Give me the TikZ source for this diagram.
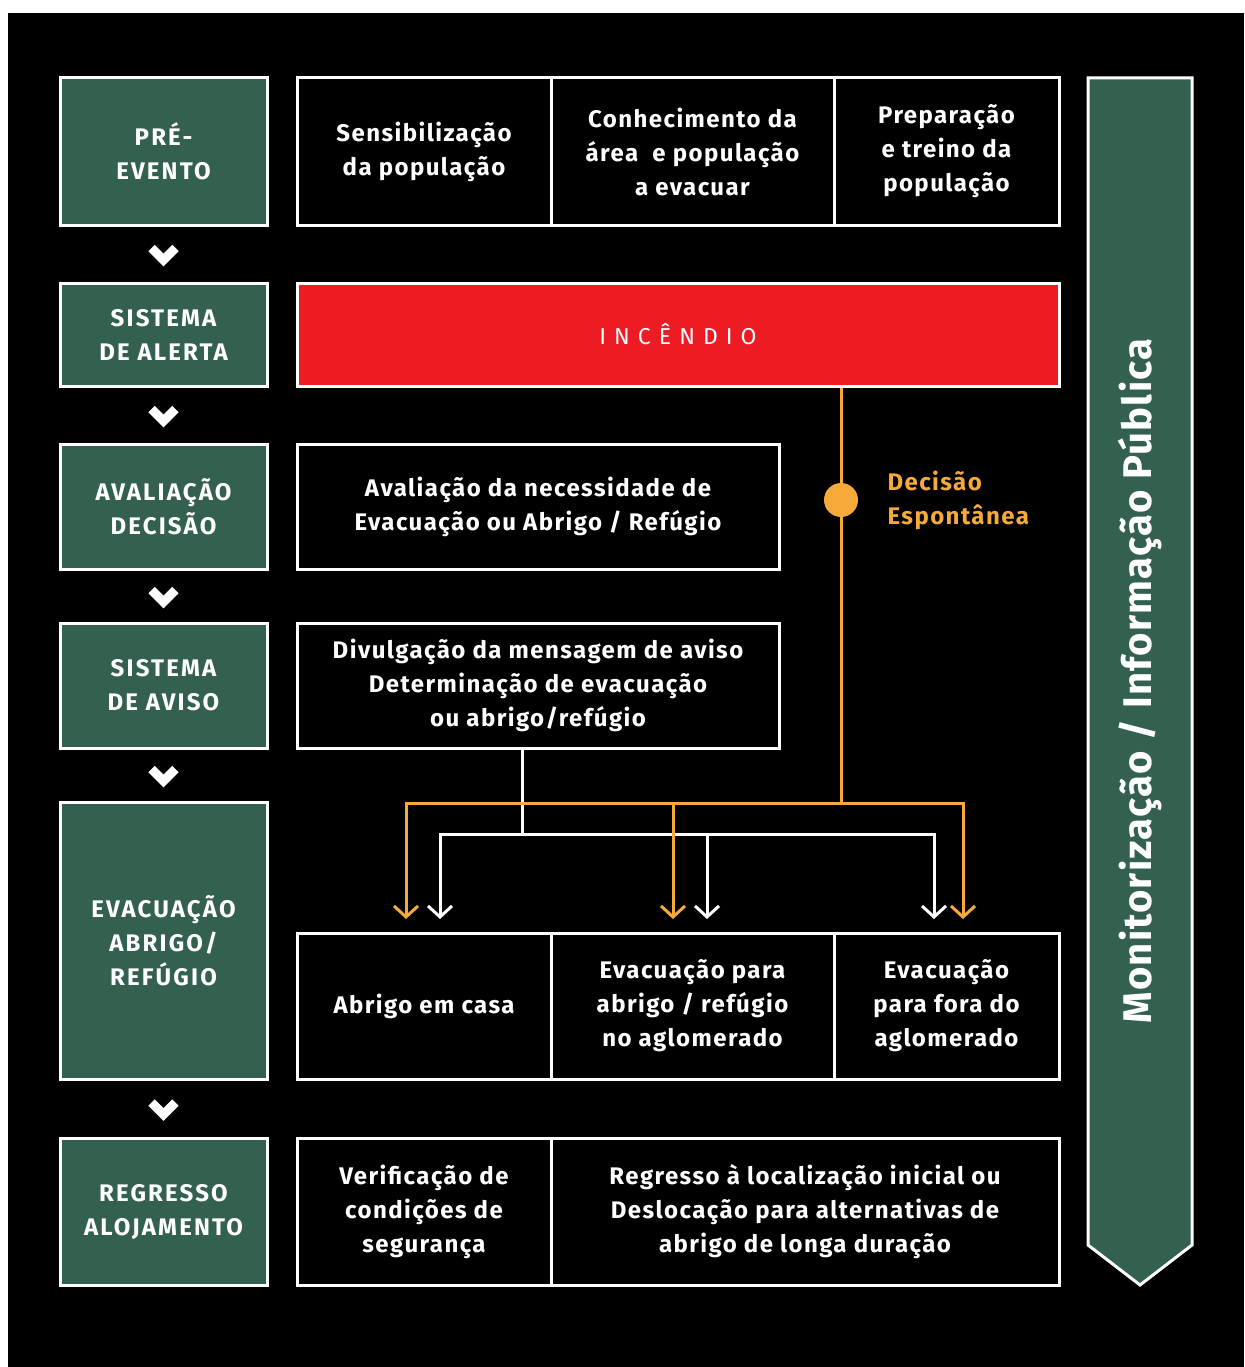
\documentclass[tikz,border=0pt]{standalone}
\usepackage{fontspec}
\setmainfont{Fira Sans}
\usetikzlibrary{arrows.meta}
\definecolor{dgreen}{HTML}{34614F}
\definecolor{fire}{HTML}{ED1C24}
\definecolor{amber}{HTML}{F6AA3A}
\begin{document}
\begin{tikzpicture}[x=1pt,y=-1pt,
  txt/.style={text=white,font=\fontsize{24}{34}\selectfont\bfseries\addfontfeature{LetterSpace=6},align=center},
  gtxt/.style={text=white,font=\fontsize{24}{34}\selectfont\bfseries\addfontfeature{LetterSpace=9},align=center},
  gbox/.style={gtxt,draw=white,fill=dgreen,line width=3pt,inner sep=0pt},
  bbox/.style={txt,draw=white,fill=black,line width=3pt,inner sep=0pt},
  rbox/.style={draw=white,fill=fire,line width=3pt,inner sep=0pt,text=white},
  chev/.style={white,line width=9pt,miter limit=10},
  oline/.style={amber,line width=3pt},
  wline/.style={white,line width=3pt},
  oarr/.style={oline,-{Straight Barb[length=11pt,width=24pt]}},
  warr/.style={wline,-{Straight Barb[length=11pt,width=24pt]}}
]
\useasboundingbox (0,0) rectangle (1244,1367);
\fill[white] (0,0) rectangle (1244,1367);
\fill[black] (8,13) rectangle (1244,1367);

% left stage boxes
\node[gbox,minimum width=207pt,minimum height=147pt] (pre) at (163.5,151.5) {PRÉ-\\EVENTO};
\node[gbox,minimum width=207pt,minimum height=103pt] (alerta) at (163.5,334.5) {SISTEMA\\DE ALERTA};
\node[gbox,minimum width=207pt,minimum height=125pt] (aval) at (163.5,506.5) {AVALIAÇÃO\\DECISÃO};
\node[gbox,minimum width=207pt,minimum height=125pt] (aviso) at (163.5,685.5) {SISTEMA\\DE AVISO};
\node[gbox,minimum width=207pt,minimum height=277pt] (evac) at (163.5,940.5) {EVACUAÇÃO\\ABRIGO/\\REFÚGIO};
\node[gbox,minimum width=207pt,minimum height=147pt] (regr) at (163.5,1211.5) {REGRESSO\\ALOJAMENTO};

% chevrons between stages
\foreach \a/\b/\n in {pre/alerta/c1,alerta/aval/c2,aval/aviso/c3,aviso/evac/c4,evac/regr/c5}{
  \path (\a.south) -- (\b.north) coordinate[pos=0.5] (\n);
  \draw[chev] ([shift={(-12,-6)}]\n) -- ([shift={(0,6)}]\n) -- ([shift={(12,-6)}]\n);
}

% row 1
\node[bbox,minimum width=254pt,minimum height=147pt] (r1a) at (424,151.5) {Sensibilização\\da população};
\node[bbox,minimum width=283pt,minimum height=147pt] (r1b) at (692.5,151.5) {Conhecimento da\\área~ e população\\a evacuar};
\node[bbox,minimum width=225pt,minimum height=147pt] (r1c) at (946.5,151.5) {Preparação\\e treino da\\população};

% fire
\node[rbox,minimum width=762pt,minimum height=103pt,font=\fontsize{23}{28}\selectfont\addfontfeature{LetterSpace=35}] (fire) at (678,334.5) {INCÊNDIO};

% decision / warning
\node[bbox,minimum width=482pt,minimum height=125pt] (avn) at (538,506.5) {Avaliação da necessidade de\\Evacuação ou Abrigo / Refúgio};
\node[bbox,minimum width=482pt,minimum height=125pt] (div) at (538,685.5) {Divulgação da mensagem de aviso\\Determinação de evacuação\\ou abrigo/refúgio};

% row 5
\node[bbox,minimum width=254pt,minimum height=146pt] (r5a) at (424,1006) {Abrigo em casa};
\node[bbox,minimum width=283pt,minimum height=146pt] (r5b) at (692.5,1006) {Evacuação para\\abrigo / refúgio\\no aglomerado};
\node[bbox,minimum width=225pt,minimum height=146pt] (r5c) at (946.5,1006) {Evacuação\\para fora do\\aglomerado};

% row 6
\node[bbox,minimum width=254pt,minimum height=147pt] (r6a) at (424,1211.5) {Verificação de\\condições de\\segurança};
\node[bbox,minimum width=508pt,minimum height=147pt] (r6b) at (805,1211.5) {Regresso à localização inicial ou\\Deslocação para alternativas de\\abrigo de longa duração};

% right arrow
\draw[white,fill=dgreen,line width=3pt] (1088,78) -- (1192,78) -- (1192,1245) -- (1140,1285) -- (1088,1245) -- cycle;
\node[rotate=90,text=white,font=\fontsize{40}{44}\selectfont\bfseries\addfontfeature{LetterSpace=3}] (mon) at (1140,681) {Monitorização / Informação Pública};

% connectors
\coordinate (wj) at (522,834);
\coordinate (w1) at (440,919);
\coordinate (w2) at (707,919);
\coordinate (w3) at (934,919);
\coordinate (oj) at (841,803);
\coordinate (o1) at (406,919);
\coordinate (o2) at (673,919);
\coordinate (o3) at (963,919);
\node[circle,fill=amber,minimum size=34pt,inner sep=0pt] (dot) at (841,500) {};
\node[anchor=west,align=left,text=amber,font=\fontsize{24}{34}\selectfont\bfseries\addfontfeature{LetterSpace=6}] (dtxt) at (884,500) {Decisão\\Espontânea};

\draw[wline] (div.south -| wj) -- (wj);
\draw[warr] (wj) -| (w1);
\draw[warr] (wj) -| (w2);
\draw[warr] (wj) -| (w3);

\draw[oline] (fire.south -| dot) -- (dot) -- (oj);
\draw[oarr] (oj) -| (o1);
\draw[oarr] (oj) -| (o2);
\draw[oarr] (oj) -| (o3);
\end{tikzpicture}
\end{document}
